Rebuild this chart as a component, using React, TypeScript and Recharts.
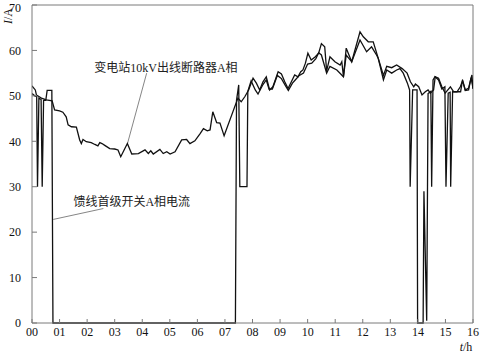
import React from 'react';
import { LineChart, Line, XAxis, YAxis, ReferenceLine, ReferenceDot } from 'recharts';

// 变电站10kV出线断路器A相 (substation breaker, phase A)
const hoursSub = [
  0, 0.12, 0.16, 0.34, 0.52, 0.73, 0.82, 1.0, 1.12, 1.24, 1.31, 1.43, 1.61, 1.73, 1.79, 1.85, 1.97,
  2.15, 2.28, 2.39, 2.46, 2.54, 2.64, 2.82, 3.0, 3.12, 3.22, 3.36, 3.46, 3.62, 3.86, 4.1, 4.22, 4.31,
  4.4, 4.64, 4.76, 4.89, 5.01, 5.19, 5.43, 5.61, 5.73, 5.91, 6.1, 6.22, 6.36, 6.46, 6.56, 6.7, 6.82,
  6.97, 7.47, 7.59, 7.72, 7.86, 8.02, 8.14, 8.26, 8.38, 8.5, 8.62, 8.74, 8.93, 9.05, 9.17, 9.29, 9.41,
  9.53, 9.65, 9.75, 9.83, 9.92, 10.01, 10.13, 10.28, 10.4, 10.5, 10.62, 10.69, 10.81, 10.99, 11.18,
  11.24, 11.3, 11.4, 11.6, 11.9, 12.02, 12.2, 12.38, 12.56, 12.75, 12.87, 13.05, 13.23, 13.43, 13.61,
  13.73, 13.85, 13.91, 14.03, 14.15, 14.27, 14.37, 14.45, 14.57, 14.63, 14.75, 14.87, 14.99, 15.18,
  15.3, 15.42, 15.54, 15.62, 15.72, 15.84, 15.96, 16,
];
const currentSub = [
  52.2, 51.3, 50.2, 49.5, 49.1, 48.9, 46.9, 46.7, 46.4, 45.4, 43.6, 43.2, 43.1, 40.3, 39.5, 40.4, 39.9,
  39.7, 39.3, 39.0, 39.7, 39.5, 39.1, 38.4, 38.3, 38.1, 36.6, 38.3, 39.5, 37.2, 37.3, 38.1, 37.3, 37.9,
  37.2, 38.2, 37.3, 37.7, 37.2, 37.7, 40.3, 40.4, 39.5, 40.1, 41.7, 42.8, 42.3, 42.5, 46.5, 44.1, 44.0,
  41.2, 49.5, 48.7, 49.8, 51.3, 53.9, 52.8, 51.3, 53.1, 54.2, 51.3, 52.0, 55.3, 54.8, 53.1, 51.6, 53.1,
  54.6, 54.2, 55.3, 55.7, 57.2, 59.4, 57.9, 58.6, 59.4, 61.5, 60.8, 55.5, 58.6, 57.5, 56.8,
  57.5, 54.2, 60.5, 57.5, 64.1, 63.0, 61.9, 61.9, 58.3, 54.5, 56.5, 56.2, 56.8, 56.0, 55.0,
  53.1, 52.0, 52.6, 52.0, 50.2, 50.9, 51.3, 50.6, 51.3, 54.2, 53.9, 52.0, 50.6, 52.0,
  50.9, 50.9, 52.0, 53.3, 51.3, 51.7, 54.6, 51.5,
];

// 馈线首级开关A相电流 (feeder first-level switch, phase A)
const hoursFeeder = [
  0, 0.1, 0.17, 0.2, 0.25, 0.33, 0.37, 0.42, 0.5, 0.55, 0.72, 0.76, 7.38, 7.42, 7.5, 7.54, 7.8, 7.83,
  7.95, 8.1, 8.2, 8.38, 8.5, 8.6, 8.72, 8.9, 9.05, 9.2, 9.3, 9.45, 9.55, 9.7, 9.85, 10.0, 10.15, 10.3,
  10.4, 10.5, 10.69, 10.81, 11.06, 11.3, 11.4, 11.6, 11.9, 12.14, 12.32, 12.5, 12.56, 12.75, 12.87,
  13.05, 13.23, 13.35, 13.47, 13.62, 13.7, 13.72, 13.81, 13.97, 13.99, 14.19, 14.22, 14.32, 14.37,
  14.47, 14.5, 14.55, 14.62, 14.75, 14.87, 14.98, 15.02, 15.1, 15.17, 15.19, 15.26, 15.55, 15.62,
  15.72, 15.84, 15.93, 16,
];
const currentFeeder = [
  50.5, 50.0, 49.8, 30, 49.5, 49.2, 30, 49.0, 49.0, 51.2, 51.2, 0, 0, 49.0, 52.4, 30, 30, 51.0,
  53.3, 51.3, 50.4, 52.5, 53.5, 51.5, 51.5, 54.5, 53.8, 52.2, 51.2, 52.8, 53.5, 54.5, 55.0, 57.0, 57.2, 58.2,
  59.5, 59.0, 55.0, 56.5, 55.7, 54.2, 59.0, 57.5, 62.3, 59.7, 60.8, 59.0, 58.3, 53.5, 55.7,
  55.0, 55.7, 56.0, 55.0, 52.8, 51.3, 30, 51.3, 51.3, 0, 0, 29, 0.5, 50.5,
  51.0, 30, 53.5, 54.2, 53.5, 51.5, 52.0, 30, 50.6, 50.8, 30, 50.9, 50.9, 53.5,
  51.2, 51.3, 54.0, 51.7,
];

const xTicks = [0, 1, 2, 3, 4, 5, 6, 7, 8, 9, 10, 11, 12, 13, 14, 15, 16];
const yTicks = [0, 10, 20, 30, 40, 50, 60, 70];

const subLabel = { text: '变电站10kV出线断路器A相', t: 4.86, v: 56.1 };
const subLeader = [{ x: 4.16, y: 55.0 }, { x: 3.46, y: 39.4 }];
const feederLabel = { text: '馈线首级开关A相电流', t: 3.62, v: 26.7 };
const feederLeader = [{ x: 2.59, y: 25.2 }, { x: 0.77, y: 22.8 }];

const subData = hoursSub.map((t, i) => ({ t, v: currentSub[i] }));
const feederData = hoursFeeder.map((t, i) => ({ t, v: currentFeeder[i] }));

const FONT = '"Liberation Serif", "Noto Sans CJK SC", serif';
const AXIS = '#7a7a7a';

export default function App() {
  return (
    <div style={{ position: 'absolute', left: 0, top: 0, width: 480, height: 353, background: '#fff', fontFamily: FONT }}>
      <LineChart width={480} height={353} margin={{ top: 5, right: 7, left: 0, bottom: 0 }}>
        <XAxis
          type="number"
          dataKey="t"
          domain={[0, 16]}
          ticks={xTicks}
          allowDataOverflow
          tickFormatter={(h: number) => String(h).padStart(2, '0')}
          height={30}
          stroke={AXIS}
          tickSize={-4}
          tickMargin={8}
          tick={{ fill: '#111', fontSize: 12, fontFamily: FONT }}
        />
        <YAxis
          type="number"
          domain={[0, 70]}
          ticks={yTicks}
          width={32}
          stroke={AXIS}
          tickSize={-5}
          tickMargin={16}
          tick={{ fill: '#111', fontSize: 12, fontFamily: FONT }}
        />
        <ReferenceLine y={70} stroke={AXIS} />
        <ReferenceLine x={16} stroke={AXIS} />
        <ReferenceLine segment={subLeader} stroke="#666" strokeWidth={0.8} />
        <ReferenceLine segment={feederLeader} stroke="#666" strokeWidth={0.8} />
        <ReferenceDot
          x={subLabel.t}
          y={subLabel.v}
          r={0}
          fill="none"
          stroke="none"
          label={{ value: subLabel.text, position: 'center', fill: '#222', fontSize: 12, fontFamily: FONT }}
        />
        <ReferenceDot
          x={feederLabel.t}
          y={feederLabel.v}
          r={0}
          fill="none"
          stroke="none"
          label={{ value: feederLabel.text, position: 'center', fill: '#222', fontSize: 12, fontFamily: FONT }}
        />
        <Line data={subData} dataKey="v" type="linear" stroke="#111" strokeWidth={1.3} dot={false} isAnimationActive={false} />
        <Line data={feederData} dataKey="v" type="linear" stroke="#111" strokeWidth={1.3} dot={false} isAnimationActive={false} />
      </LineChart>
      <div
        style={{
          position: 'absolute',
          left: 8,
          top: 16,
          transform: 'translate(-50%, -50%) rotate(-90deg)',
          fontSize: 12,
          color: '#111',
          whiteSpace: 'nowrap',
          lineHeight: 1,
        }}
      >
        <i>I</i>/A
      </div>
      <div
        style={{
          position: 'absolute',
          left: 466,
          top: 347,
          transform: 'translate(-50%, -50%)',
          fontSize: 12,
          color: '#111',
          whiteSpace: 'nowrap',
          lineHeight: 1,
        }}
      >
        <i>t</i>/h
      </div>
    </div>
  );
}
